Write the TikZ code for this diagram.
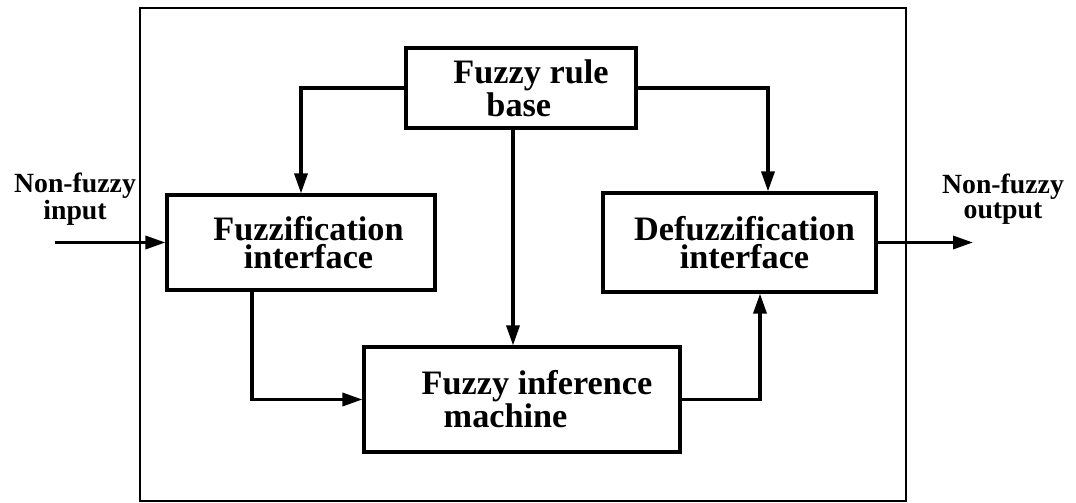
\documentclass[tikz,border=0pt]{standalone}
\usepackage{fontspec}
\setmainfont{Liberation Serif}
\usetikzlibrary{arrows.meta}
\begin{document}
\begin{tikzpicture}[x=0.02cm,y=-0.02cm,
  blk/.style={draw, line width=1.8pt, inner sep=0pt, align=center,
    font=\bfseries\fontsize{19.5}{16}\selectfont},
  lbl/.style={inner sep=0pt, align=center,
    font=\bfseries\fontsize{15.8}{14.2}\selectfont},
  arr/.style={line width=1.9pt, -{Triangle[length=0.4cm,width=0.26cm]}}]
\useasboundingbox (0,0) rectangle (1076,503);
\draw[line width=1.4pt] (140,8) rectangle (906,501);
\node[blk, align=left, minimum width=4.6cm, minimum height=1.6cm] (rb) at (521,88)
  {\hspace*{0.4cm}Fuzzy rule\\\hspace*{1.06cm}base};
\node[blk, minimum width=5.36cm, minimum height=1.9cm] (fz) at (301,242.5)
  {\hspace*{0.3cm}Fuzzification\\\hspace*{0.3cm}interface};
\node[blk, minimum width=5.46cm, minimum height=1.98cm] (dz) at (739.5,242.5)
  {\hspace*{0.2cm}Defuzzification\\\hspace*{0.2cm}interface};
\node[blk, align=left, minimum width=6.32cm, minimum height=2.1cm] (ib) at (522,399.5)
  {\hspace*{0.6cm}Fuzzy inference\\\hspace*{1.04cm}machine};
\node[lbl] (li) at (75,199) {Non-fuzzy\\input};
\node[lbl] (lo) at (1003,199) {Non-fuzzy\\output};
\coordinate (in) at (55,242.5);
\coordinate (out) at (973,242.5);
\draw[arr] (rb.west) -| (fz.north);
\draw[arr] (rb.east) -| ([xshift=0.57cm]dz.north);
\draw[arr] ([xshift=-0.16cm]rb.south) -- ([xshift=-0.16cm]rb.south |- ib.north);
\draw[arr] ([xshift=-0.98cm]fz.south) |- (ib.west);
\draw[arr] (ib.east) -| ([xshift=0.41cm]dz.south);
\draw[arr] (in) -- (fz.west);
\draw[arr] (dz.east) -- (out);
\end{tikzpicture}
\end{document}
